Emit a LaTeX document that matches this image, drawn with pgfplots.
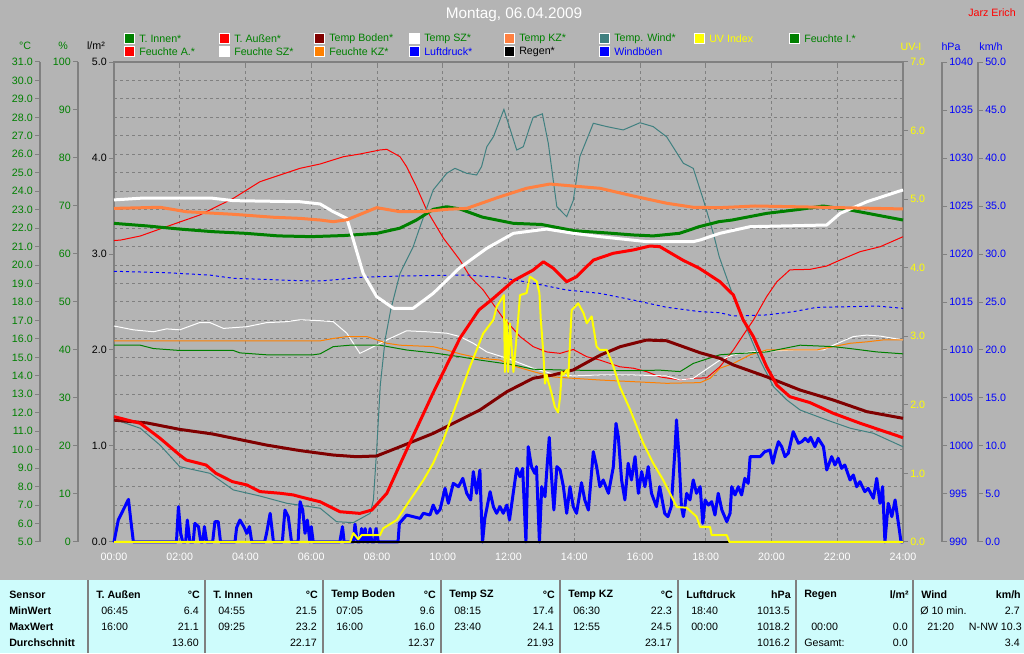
\documentclass[border=0pt]{standalone}
\usepackage{fontspec}
\setmainfont{Liberation Sans}
\usepackage{pgfplots}
\pgfplotsset{compat=1.18}
\definecolor{bg}{RGB}{180,180,180}
\definecolor{frm}{RGB}{128,128,128}
\definecolor{wgreen}{RGB}{0,128,0}
\definecolor{wdred}{RGB}{128,0,0}
\definecolor{wcoral}{RGB}{255,128,64}
\definecolor{worange}{RGB}{255,128,0}
\definecolor{wteal}{RGB}{64,128,128}
\definecolor{wblue}{RGB}{0,0,255}
\definecolor{wred}{RGB}{255,0,0}
\definecolor{wyellow}{RGB}{255,255,0}
\definecolor{tbl}{RGB}{206,252,252}
\newcommand\sm{\fontsize{8}{9.5}\selectfont}
\pgfplotsset{
  base/.style={scale only axis, width=591.75pt, height=360pt, xmin=0, xmax=24,
     at={(85.5pt,83.25pt)}, anchor=south west, clip=false, no marks},
  hidden/.style={base, hide axis},
  scl/.style={scale only axis, width=1pt, height=360pt, xmin=0, xmax=1, hide x axis,
     axis line style={-, draw=frm, line width=1.2pt},
     every outer y axis line/.append style={-},
     every inner y axis line/.append style={-},
     y axis line style={-},
     tick align=outside, major tick length=3.75pt,
     ytick style={draw=frm, line width=0.75pt},
     /pgf/number format/assume math mode=true,
     /pgf/number format/1000 sep={},
     yticklabel style={font=\sm, inner sep=1.5pt}},
}
\begin{document}
\begin{tikzpicture}[x=0.75pt,y=0.75pt]
\useasboundingbox (0,0) rectangle (1024,653);
\fill[bg] (0,0) rectangle (1024,653);

% ---------- scale axes ----------
\begin{axis}[axis y line=left, scl, at={(30pt,83.25pt)}, anchor=south west,
  ymin=5, ymax=31, ytick={5,6,...,31}, yticklabel style={text=wgreen},
  /pgf/number format/fixed, /pgf/number format/fixed zerofill, /pgf/number format/precision=1]
\end{axis}
\begin{axis}[axis y line=left, scl, at={(58.5pt,83.25pt)}, anchor=south west,
  ymin=0, ymax=100, ytick={0,10,...,100}, yticklabel style={text=wgreen}]
\end{axis}
\begin{axis}[axis y line=left, scl, at={(85.5pt,83.25pt)}, anchor=south west,
  ymin=0, ymax=5, ytick={0,1,...,5}, yticklabel style={text=black},
  /pgf/number format/fixed, /pgf/number format/fixed zerofill, /pgf/number format/precision=1]
\end{axis}
\begin{axis}[axis y line=right, scl, at={(677.25pt,83.25pt)}, anchor=south east,
  ymin=0, ymax=7, ytick={0,1,...,7}, yticklabel style={text=wyellow},
  /pgf/number format/fixed, /pgf/number format/fixed zerofill, /pgf/number format/precision=1]
\end{axis}
\begin{axis}[axis y line=right, scl, at={(706.5pt,83.25pt)}, anchor=south east,
  ymin=990, ymax=1040, ytick={990,995,...,1040}, yticklabel style={text=wblue}]
\end{axis}
\begin{axis}[axis y line=right, scl, at={(733.5pt,83.25pt)}, anchor=south east,
  ymin=0, ymax=50, ytick={0,5,...,50}, yticklabel style={text=wblue},
  /pgf/number format/fixed, /pgf/number format/fixed zerofill, /pgf/number format/precision=1]
\end{axis}

% ---------- frame with grid ----------
\begin{axis}[base, ymin=5, ymax=31, ytick={5,6,...,31}, yticklabels={},
  ymajorgrids, xmajorgrids, xtick={0,2,...,24},
  xticklabels={00:00,02:00,04:00,06:00,08:00,10:00,12:00,14:00,16:00,18:00,20:00,22:00,24:00},
  xticklabel style={text=white, font=\sm, yshift=-4.5pt},
  tick align=inside, major tick length=3pt,
  xtick style={draw=frm, line width=0.75pt}, ytick style={draw=none},
  axis line style={draw=frm, line width=1.5pt},
  major grid style={draw=frm, line width=0.75pt, dash pattern=on 2.25pt off 2.25pt}]
\end{axis}

% ---------- humidity (%) ----------
\begin{axis}[hidden, ymin=0, ymax=100]
\addplot[wred, line width=0.75pt] coordinates {(0,62.8) (0.2,62.9) (0.8,63.75) (1.6,65.7) (2.6,68.1) (3.63,71.6) (4.44,75.06) (5.66,77.85) (6.27,78.75) (6.98,80.27) (7.48,80.83) (8.09,81.67) (8.3,81.8) (8.7,80.27) (8.9,78.2) (9.2,74.0) (9.51,69.17) (10.02,63.3) (10.52,58.75) (10.83,55.27) (11.23,52.5) (11.54,49.5) (11.84,46.6) (11.95,45.9) (12.35,42.8) (12.75,40.7) (13.16,39.6) (13.57,39.3) (13.97,40.1) (14.38,38.6) (14.78,37.9) (15.39,36.5) (15.8,36.2) (16.2,35.5) (16.6,34.4) (17.22,33.75) (17.62,34.1) (18.03,34.2) (18.43,36.5) (18.84,40.0) (19.14,43.1) (19.45,46.25) (19.85,51.1) (20.16,54.2) (20.56,56.7) (21.17,56.8) (21.68,57.5) (22.09,58.75) (22.7,60.5) (23.3,61.5) (24,63.6)};
\addplot[white, line width=0.75pt] coordinates {(0,45.0) (0.59,44.2) (1.2,43.8) (1.6,44.4) (2,44.2) (2.6,45.7) (2.92,45.7) (3.33,44.5) (4.04,44.85) (4.64,45.7) (5.25,45.9) (5.66,46.3) (6.27,46.1) (6.67,45.9) (7.08,43.5) (7.48,39.3) (7.89,40.7) (8.3,42.1) (8.9,44.0) (9.51,43.8) (10.12,43.5) (10.52,42.8) (10.93,41.4) (11.34,39.6) (11.95,38.3) (12.75,36.2) (13.36,35.0) (13.97,34.6) (14.78,34.8) (15.8,34.8) (16.81,34.6) (17.22,33.75) (17.62,34.1) (17.83,35.1) (18.13,36.5) (18.43,37.9) (18.84,39.0) (19.35,39.6) (20.66,40.0) (21.58,40.0) (21.88,41.0) (22.49,42.8) (22.9,43.1) (23.3,42.9) (24,42.1)};
\addplot[worange, line width=0.75pt] coordinates {(0,41.9) (6.27,41.9) (6.67,42.4) (7.08,42.8) (7.69,42.8) (8.09,41.9) (8.3,41.4) (8.7,41.0) (9.71,40.7) (10.12,40.0) (10.52,39.2) (11.13,38.3) (11.74,37.9) (12.15,36.7) (12.75,35.5) (13.36,34.4) (13.97,34.1) (14.78,33.75) (15.8,33.4) (16.81,33.06) (17.83,33.2) (18.13,34.1) (18.43,36.2) (18.84,37.2) (19.35,39.0) (19.85,40.0) (21.37,40.0) (21.88,40.7) (22.39,41.4) (22.9,41.7) (23.4,42.1) (24,42.1)};
\addplot[wgreen, line width=0.75pt] coordinates {(0,41.0) (0.8,41.0) (1.2,40.3) (2,39.9) (3.63,39.9) (3.83,39.4) (4.64,39.0) (6.06,39.0) (6.27,39.2) (6.67,40.7) (7.18,41.0) (8.09,41.0) (8.9,40.0) (9.71,39.4) (10.52,38.6) (11.13,37.9) (12.15,36.9) (12.75,36.0) (13.77,35.8) (15.8,35.7) (16.6,35.8) (17.22,35.5) (17.62,37.2) (17.93,37.9) (18.43,39.0) (18.84,39.2) (19.85,39.6) (20.87,41.0) (21.88,40.7) (22.39,40.3) (23.2,39.6) (24,39.2)};
\end{axis}

% ---------- pressure (hPa) ----------
\begin{axis}[hidden, ymin=990, ymax=1040]
\addplot[wblue, line width=0.75pt, dash pattern=on 2.25pt off 2.25pt] coordinates {(0,1018.2) (1.6,1018.05) (2.92,1017.8) (3.63,1017.47) (5.66,1017.22) (6.27,1017.19) (6.87,1017.36) (7.48,1017.57) (8.7,1017.71) (10.73,1017.81) (11.74,1017.57) (12.75,1016.95) (13.77,1016.25) (14.78,1015.9) (15.8,1015.2) (16.81,1014.45) (17.83,1013.99) (18.43,1013.89) (18.84,1013.54) (19.85,1013.65) (20.66,1013.99) (21.37,1014.44) (22.39,1014.51) (23.2,1014.58) (24,1014.34)};
\end{axis}

% ---------- temperatures (°C) ----------
\begin{axis}[hidden, ymin=5, ymax=31]
% Temp. Wind
\addplot[wteal, line width=0.75pt] coordinates {(0,11.65) (0.8,11.16) (1.4,10.25) (2,9.08) (2.92,8.72) (3.63,7.82) (4.44,7.49) (5.25,7.1) (6.27,6.83) (6.77,6.1) (7.28,6.05) (7.79,6.55) (7.89,7.27) (7.99,10.0) (8.1,13.5) (8.25,16.0) (8.42,17.6) (8.7,19.55) (9.1,20.99) (9.31,22.08) (9.71,24.07) (10.12,24.97) (10.37,25.24) (10.73,24.97) (11.03,24.88) (11.18,25.33) (11.34,26.41) (11.54,26.95) (11.86,28.43) (12.25,26.23) (12.45,26.41) (12.65,27.5) (12.75,28.0) (13.03,28.19) (13.21,26.6) (13.47,23.16) (13.77,22.62) (13.97,23.5) (14.17,25.87) (14.58,27.68) (14.99,27.5) (15.49,27.32) (16.0,27.71) (16.4,27.5) (16.81,26.95) (17.32,25.51) (17.62,25.24) (17.93,23.52) (18.23,21.72) (18.41,20.45) (18.84,18.29) (19.35,16.12) (19.65,14.86) (20.06,13.41) (20.47,12.69) (20.87,12.15) (21.68,11.61) (22.4,11.16) (23.1,10.89) (24,10.16)};
% Temp Boden
\addplot[wdred, line width=2.25pt, line join=round] coordinates {(0,11.6) (1,11.45) (2,11.1) (3,10.85) (3.63,10.62) (4.64,10.25) (5.66,9.95) (6.67,9.71) (7.38,9.62) (7.99,9.66) (8.7,10.16) (9.72,10.89) (10.32,11.43) (11.13,12.15) (11.95,13.14) (12.75,13.87) (13.36,14.05) (13.97,14.32) (14.8,15.13) (15.4,15.58) (16.2,15.94) (16.81,15.9) (17.83,15.25) (18.43,14.95) (18.84,14.59) (19.85,13.95) (20.87,13.23) (21.88,12.69) (22.9,12.06) (24,11.7)};
% T. Aussen
\addplot[wred, line width=2.25pt, line join=round] coordinates {(0,11.79) (0.8,11.43) (1.4,10.62) (2,9.71) (2.2,9.44) (2.8,9.17) (3.1,8.72) (3.6,8.27) (4.04,8.09) (4.44,7.73) (5.05,7.64) (5.45,7.55) (5.66,7.45) (6.06,7.27) (6.27,7.18) (6.87,6.64) (7.48,6.55) (7.84,6.73) (8.3,7.64) (8.9,9.98) (9.7,13.05) (10.52,16.03) (11.1,17.57) (11.54,18.2) (12.15,19.15) (12.75,19.73) (13.06,20.18) (13.36,19.83) (13.77,19.1) (14.07,19.37) (14.58,20.27) (15.19,20.64) (15.8,20.82) (16.3,21.03) (16.6,21.0) (17.3,20.27) (17.8,19.83) (18.43,19.1) (18.84,18.38) (19.14,17.02) (19.45,16.12) (19.85,14.5) (20.16,13.5) (20.56,12.87) (21.17,12.55) (21.88,11.97) (22.7,11.43) (23.3,11.07) (24,10.65)};
% T. Innen
\addplot[wgreen, line width=2.25pt, line join=round] coordinates {(0,22.26) (1,22.12) (2,21.95) (3,21.81) (4,21.72) (5,21.58) (6,21.54) (7,21.6) (8,21.72) (8.7,22.0) (9.2,22.44) (9.71,23.02) (10.12,23.16) (10.52,23.04) (11.2,22.6) (12.15,22.26) (13,22.2) (14,21.86) (15,21.74) (15.8,21.63) (16.4,21.58) (17.2,21.72) (17.8,22.08) (18.4,22.35) (18.8,22.44) (19.85,22.8) (20.87,23.02) (21.57,23.2) (22.4,22.98) (23.2,22.71) (24,22.44)};
% Temp SZ
\addplot[white, line width=2.25pt, line join=round] coordinates {(0,23.53) (0.8,23.62) (3.0,23.62) (3.63,23.49) (5.66,23.43) (6.27,23.31) (6.67,22.89) (7.08,22.53) (7.28,21.36) (7.58,19.55) (7.99,18.29) (8.5,17.66) (9.1,17.66) (9.71,18.47) (10.5,19.83) (11.34,20.91) (12.15,21.72) (13.16,21.95) (13.97,21.72) (14.78,21.54) (16.2,21.27) (17.62,21.27) (17.83,21.36) (18.43,21.72) (19.35,22.08) (21.68,22.17) (22.09,22.8) (22.9,23.43) (24,24.07)};
% Temp KZ
\addplot[wcoral, line width=2.25pt, line join=round] coordinates {(0,23.07) (1.4,23.13) (2.2,22.89) (3.63,22.75) (4.85,22.59) (5.66,22.53) (6.27,22.44) (6.67,22.35) (7.08,22.45) (7.99,23.11) (8.7,22.89) (9.41,22.89) (10.12,23.02) (10.73,23.07) (11.74,23.7) (12.55,24.16) (13.26,24.39) (13.97,24.28) (14.78,24.16) (15.8,23.74) (16.81,23.35) (17.62,23.13) (18.43,23.11) (19.5,23.2) (21,23.15) (24,23.04)};
\end{axis}

% ---------- wind gusts (km/h) ----------
\begin{axis}[hidden, ymin=0, ymax=50]
\addplot[wblue, line width=2.25pt, line join=round] coordinates {(0,0) (0.13,2.29) (0.23,2.99) (0.44,4.44) (0.51,2.29) (0.59,0) (1.9,0) (1.96,3.68) (2.03,0.9) (2.09,0) (2.18,0) (2.23,2.29) (2.31,0) (2.41,0) (2.46,1.94) (2.57,1.6) (2.64,0) (2.7,0) (2.75,1.6) (2.82,0) (3.0,0) (3.07,2.12) (3.17,2.12) (3.24,0) (3.68,0) (3.73,1.5) (3.83,2.29) (3.95,1.6) (4.04,0.9) (4.12,1.6) (4.19,0) (4.58,0) (4.64,0.9) (4.75,2.99) (4.85,0) (5.12,0) (5.2,3.33) (5.3,2.64) (5.4,0) (5.6,0) (5.66,4.2) (5.74,3.33) (5.81,0.9) (5.88,2.29) (5.96,0) (6.0,1.6) (6.06,0) (6.87,0) (6.95,1.6) (7.0,0) (7.28,0) (7.33,1.85) (7.4,0) (7.48,0) (7.53,1.4) (7.58,0) (7.64,1.4) (7.69,0) (7.74,0) (7.79,1.4) (7.84,0) (7.92,0) (7.97,1.4) (8.04,0) (8.64,0) (8.68,1.94) (8.9,2.81) (9.1,2.64) (9.31,2.46) (9.41,2.99) (9.61,2.81) (9.71,3.85) (9.82,2.99) (9.92,3.4) (10.07,5.59) (10.17,4.03) (10.32,6.11) (10.48,5.76) (10.61,6.63) (10.73,5.07) (10.85,4.38) (10.93,7.33) (11.03,5.07) (11.13,7.5) (11.18,2.46) (11.21,0) (11.28,2.46) (11.44,5.24) (11.54,3.68) (11.64,2.99) (11.74,3.68) (11.84,2.99) (11.95,3.85) (12.03,2.29) (12.15,5.24) (12.25,7.67) (12.35,6.8) (12.43,7.67) (12.53,0) (12.6,9.93) (12.7,7.85) (12.8,7.15) (12.85,7.85) (12.94,0) (13.01,5.76) (13.11,4.72) (13.18,8.2) (13.24,10.9) (13.28,8.2) (13.38,3.33) (13.47,7.85) (13.57,7.5) (13.67,5.76) (13.77,2.99) (13.87,5.76) (13.97,3.68) (14.07,2.99) (14.22,6.18) (14.32,4.38) (14.43,3.33) (14.58,9.41) (14.68,7.85) (14.78,5.76) (14.88,6.46) (15.04,5.07) (15.19,7.85) (15.27,12.36) (15.34,10.97) (15.44,6.46) (15.54,4.38) (15.64,8.2) (15.74,6.46) (15.85,8.89) (15.95,5.07) (16.05,7.33) (16.15,5.76) (16.25,7.85) (16.35,5.07) (16.5,3.68) (16.6,5.76) (16.75,2.99) (16.85,2.64) (16.95,3.68) (17.07,9.93) (17.11,12.71) (17.18,9.24) (17.26,3.68) (17.32,2.64) (17.42,5.07) (17.52,4.38) (17.62,6.46) (17.72,5.07) (17.83,5.76) (17.91,1.94) (17.98,4.38) (18.08,3.85) (18.18,4.2) (18.28,2.81) (18.38,5.07) (18.49,3.33) (18.64,2.12) (18.74,2.99) (18.79,5.76) (18.89,4.9) (18.99,5.76) (19.09,4.9) (19.19,6.63) (19.29,6.11) (19.35,8.89) (19.65,8.89) (19.8,9.41) (19.95,9.58) (20.04,8.2) (20.11,9.24) (20.21,10.45) (20.31,9.93) (20.41,8.89) (20.51,9.24) (20.66,11.49) (20.82,10.28) (20.92,10.45) (21.02,10.8) (21.12,10.45) (21.19,10.9) (21.32,9.93) (21.42,10.8) (21.58,9.93) (21.68,7.5) (21.83,8.89) (21.93,8.02) (22.03,8.72) (22.13,7.67) (22.23,8.02) (22.39,6.46) (22.49,6.98) (22.59,5.76) (22.69,6.28) (22.84,5.24) (22.94,5.59) (23.1,4.55) (23.2,6.63) (23.3,4.03) (23.38,5.76) (23.45,0) (23.55,4.03) (23.66,2.64) (23.76,4.38) (23.86,1.94) (23.94,0) (24,0)};
\end{axis}

% ---------- rain (l/m²) ----------
\begin{axis}[hidden, ymin=0, ymax=5]
\addplot[black, line width=1.5pt] coordinates {(0,0) (24,0)};
\end{axis}

% ---------- UV index ----------
\begin{axis}[hidden, ymin=0, ymax=7]
\addplot[wyellow, line width=1.5pt, line join=round] coordinates {(0,0) (7.18,0) (7.28,0.13) (7.43,0.04) (7.53,0.1) (8.09,0.1) (8.19,0.2) (8.6,0.32) (9.0,0.61) (9.41,0.9) (9.71,1.15) (10.02,1.49) (10.42,2.02) (10.83,2.56) (11.23,3.04) (11.54,3.24) (11.64,3.43) (11.86,3.6) (11.89,2.48) (11.94,3.24) (11.99,2.48) (12.04,3.19) (12.15,2.48) (12.3,3.29) (12.35,3.6) (12.55,3.63) (12.65,3.87) (12.86,3.8) (12.94,3.63) (12.98,3.26) (13.06,2.75) (13.11,2.31) (13.16,2.44) (13.21,2.34) (13.31,2.17) (13.41,1.97) (13.51,1.89) (13.57,2.12) (13.62,2.48) (13.67,2.44) (13.77,2.51) (13.82,2.41) (13.92,3.38) (14.12,3.48) (14.28,3.34) (14.38,3.19) (14.53,3.29) (14.68,2.85) (14.78,2.8) (14.99,2.8) (15.19,2.56) (15.39,2.26) (15.7,1.93) (16.1,1.44) (16.4,1.15) (16.71,0.9) (17.12,0.51) (17.42,0.5) (17.72,0.37) (17.83,0.22) (18.13,0.22) (18.18,0.1) (18.64,0.1) (18.72,0) (24,0)};
\end{axis}

% ---------- decorations in image coordinates ----------
\begin{scope}[x=0.75pt, y=-0.75pt, shift={(0pt,489.75pt)}]
\node[text=white, font=\fontsize{11.5}{13}\selectfont] at (514,15) {Montag, 06.04.2009};
\node[anchor=east, text=wred, font=\sm, inner sep=0] at (1016,13) {Jarz Erich};
% axis titles
\node[text=wgreen, font=\sm] at (25,46) {°C};
\node[text=wgreen, font=\sm] at (63,46) {\%};
\node[text=black, font=\sm] at (96,46) {l/m²};
\node[text=wyellow, font=\sm] at (911,47) {UV-I};
\node[text=wblue, font=\sm] at (951,47) {hPa};
\node[text=wblue, font=\sm] at (991,47) {km/h};
% legend
\foreach \xx/\cc/\tc/\tt in {124/wgreen/wgreen/T. Innen*, 219/wred/wgreen/T. Außen*, 314/wdred/wgreen/Temp Boden*, 409/white/wgreen/Temp SZ*, 504/wcoral/wgreen/Temp KZ*, 599/wteal/wgreen/Temp. Wind*, 694/wyellow/wyellow/UV Index, 789/wgreen/wgreen/Feuchte I.*}{
  \filldraw[fill=\cc, draw=white, line width=0.75pt] (\xx,34) rectangle (\xx+10,44);
  \node[anchor=west, text=\tc, font=\sm, inner sep=0] at (\xx+15,39) {\tt};
}
\foreach \xx/\cc/\tc/\tt in {124/wred/wgreen/Feuchte A.*, 219/white/wgreen/Feuchte SZ*, 314/worange/wgreen/Feuchte KZ*, 409/wblue/wblue/Luftdruck*, 504/black/black/Regen*, 599/wblue/wblue/Windböen}{
  \filldraw[fill=\cc, draw=white, line width=0.75pt] (\xx,47) rectangle (\xx+10,57);
  \node[anchor=west, text=\tc, font=\sm, inner sep=0] at (\xx+15,52) {\tt};
}
% table
\fill[tbl] (0,580) rectangle (1024,653);
\foreach \xx in {88,205,323,441,560,678,796,913}{
  \draw[frm, line width=1.5pt] (\xx,580) -- (\xx,653);
}
\begin{scope}[every node/.style={font=\sm, inner sep=0, text=black}]
\node[anchor=west, font=\sm\bfseries] at (9,595) {Sensor};
\node[anchor=west, font=\sm\bfseries] at (9,611) {MinWert};
\node[anchor=west, font=\sm\bfseries] at (9,627) {MaxWert};
\node[anchor=west, font=\sm\bfseries] at (9,643) {Durchschnitt};
\foreach \cs/\ce/\hd/\un/\ta/\va/\tb/\vb/\av in {
  88/205/T. Außen/°C/06:45/6.4/16:00/21.1/13.60,
  205/323/T. Innen/°C/04:55/21.5/09:25/23.2/22.17,
  323/441/Temp Boden/°C/07:05/9.6/16:00/16.0/12.37,
  441/560/Temp SZ/°C/08:15/17.4/23:40/24.1/21.93,
  560/678/Temp KZ/°C/06:30/22.3/12:55/24.5/23.17,
  678/796/Luftdruck/hPa/18:40/1013.5/00:00/1018.2/1016.2}{
  \node[anchor=west, font=\sm\bfseries] at (\cs+8,595) {\hd};
  \node[anchor=east, font=\sm\bfseries] at (\ce-5,595) {\un};
  \node[anchor=west] at (\cs+13,611) {\ta};
  \node[anchor=east] at (\ce-6,611) {\va};
  \node[anchor=west] at (\cs+13,627) {\tb};
  \node[anchor=east] at (\ce-6,627) {\vb};
  \node[anchor=east] at (\ce-6,643) {\av};
}
\node[anchor=west, font=\sm\bfseries] at (804,595) {Regen};
\node[anchor=east, font=\sm\bfseries] at (909,595) {l/m²};
\node[anchor=west] at (811,627) {00:00};
\node[anchor=east] at (908,627) {0.0};
\node[anchor=west] at (804,643) {Gesamt:};
\node[anchor=east] at (908,643) {0.0};
\node[anchor=west, font=\sm\bfseries] at (921,595) {Wind};
\node[anchor=east, font=\sm\bfseries] at (1021,595) {km/h};
\node[anchor=west] at (920,611) {Ø 10 min.};
\node[anchor=east] at (1020,611) {2.7};
\node[anchor=west] at (927,627) {21:20};
\node[anchor=east] at (1022,627) {N-NW 10.3};
\node[anchor=east] at (1020,643) {3.4};
\end{scope}
\end{scope}
\end{tikzpicture}
\end{document}
